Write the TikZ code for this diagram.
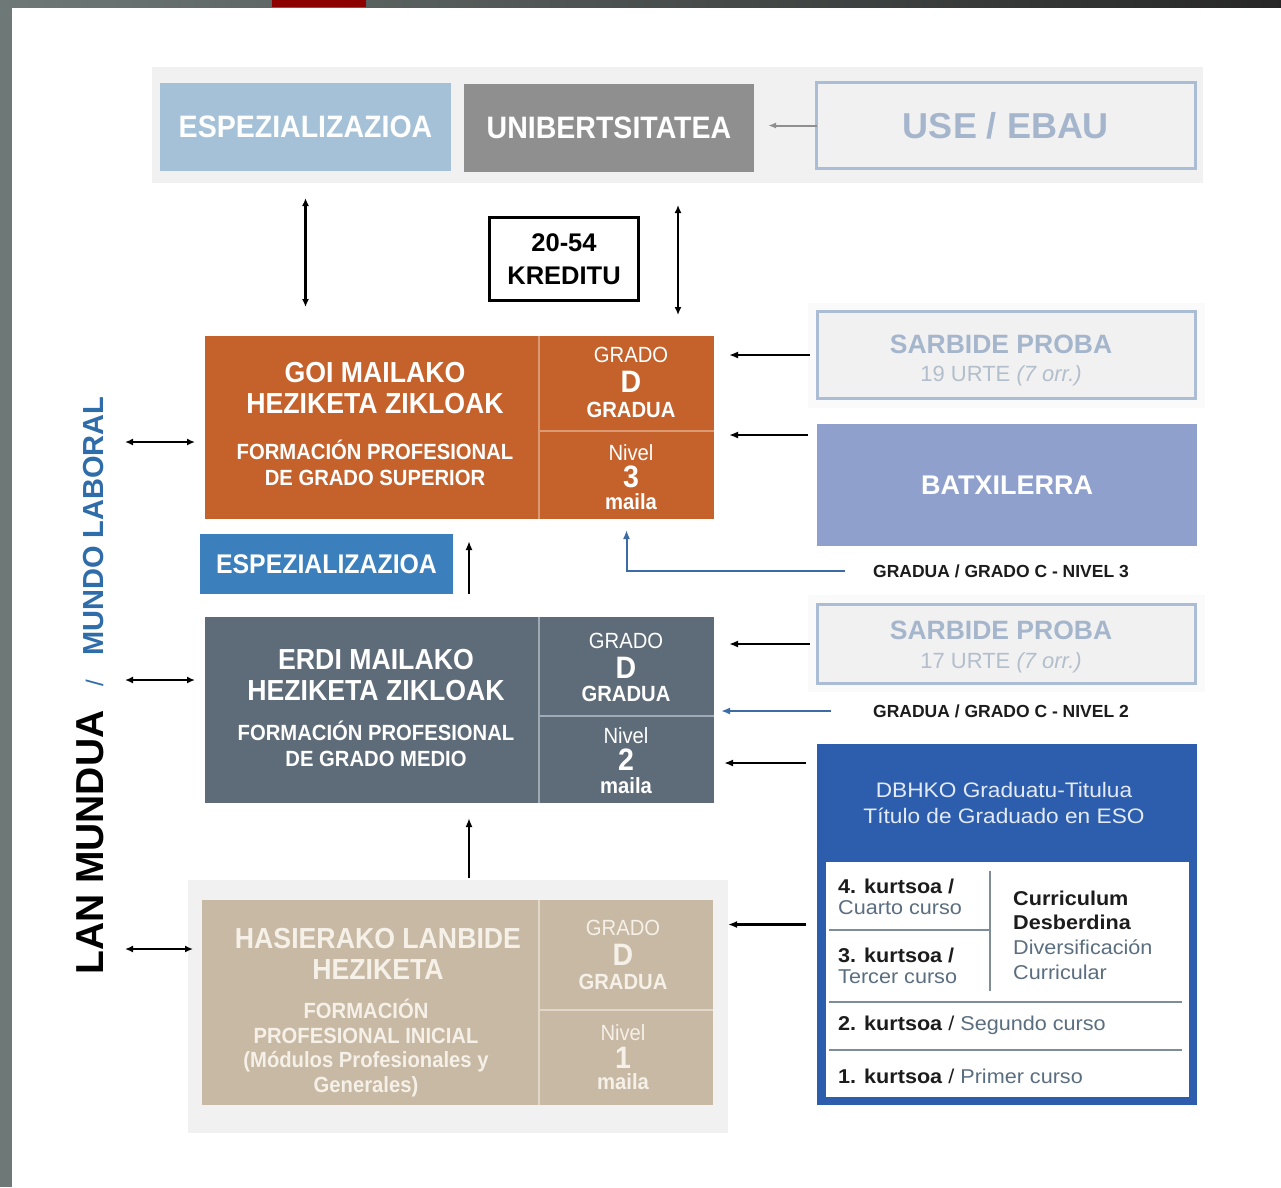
\documentclass[tikz,border=0pt]{standalone}
\usepackage{fontspec}
\setmainfont{Liberation Sans}
\newfontfamily\condfont[FakeStretch=0.92]{Liberation Sans}
\newfontfamily\kfont[FakeStretch=1.08]{Liberation Sans}
\usetikzlibrary{arrows.meta,positioning}
\newcommand{\setfs}[2]{\fontsize{#1}{#2}\selectfont}
\definecolor{fporange}{HTML}{C5622C}
\definecolor{orangeline}{HTML}{DC9A72}
\definecolor{fpslate}{HTML}{5E6B78}
\definecolor{slateline}{HTML}{A0AAB4}
\definecolor{fptan}{HTML}{C7B9A3}
\definecolor{tanline}{HTML}{E0D7C9}
\definecolor{tantext}{HTML}{F5F0E8}
\definecolor{topblue}{HTML}{A4C1D7}
\definecolor{unigray}{HTML}{8F8F8F}
\definecolor{outblue}{HTML}{AABDD4}
\definecolor{paletext}{HTML}{A5B6CC}
\definecolor{paletext2}{HTML}{B3BECC}
\definecolor{panelbg}{HTML}{F1F1F1}
\definecolor{faintbg}{HTML}{FAFAFA}
\definecolor{batxblue}{HTML}{8FA0CD}
\definecolor{espblue}{HTML}{3B80BC}
\definecolor{dbhblue}{HTML}{2D5EAD}
\definecolor{dbhtext}{HTML}{E4EAF5}
\definecolor{lineblue}{HTML}{3D6BA6}
\definecolor{mundoblue}{HTML}{2F6CAA}
\definecolor{kgray}{HTML}{5A6E80}
\definecolor{tableline}{HTML}{7E8D99}
\definecolor{labelblack}{HTML}{1C1C1C}
\definecolor{edgegray}{HTML}{6E7977}
\begin{document}
\begin{tikzpicture}[x=1pt,y=-1pt,
    fillbox/.style={rectangle, inner sep=0pt, outer sep=0pt},
    linebox/.style={fillbox, fill=panelbg, draw=outblue, line width=3pt},
    ttl/.style={inner sep=0pt, align=center, text=white, font=\condfont\bfseries\setfs{29}{31}},
    subttl/.style={inner sep=0pt, align=center, text=white, font=\condfont\bfseries\setfs{22}{25.5}},
    gradotxt/.style={inner sep=0pt, font=\condfont\setfs{22}{22}},
    bigtxt/.style={inner sep=0pt, font=\condfont\bfseries\setfs{31}{31}},
    boldtxt/.style={inner sep=0pt, font=\condfont\bfseries\setfs{22}{22}},
    paletxt/.style={inner sep=0pt, align=center, text=paletext},
    reglabel/.style={inner sep=0pt, text=labelblack, font=\bfseries\setfs{17.5}{17.5}},
    kurts/.style={inner sep=0pt, anchor=west, align=left, text=labelblack, font=\kfont\setfs{20}{21}},
    blk/.style={line width=2.4pt, -{Latex[length=9pt,width=7pt]}},
    dblk/.style={line width=2.2pt, {Latex[length=8pt,width=7pt]}-{Latex[length=8pt,width=7pt]}},
    blu/.style={line width=2pt, draw=lineblue, -{Latex[length=9pt,width=7pt]}, lineblue},
    grayarr/.style={line width=2pt, draw=unigray, -{Latex[length=8pt,width=6pt]}, unigray}]

  \useasboundingbox (0,0) rectangle (1281,1187);
  % photo edges
  \fill[white] (0,0) rectangle (1281,1187);
  \fill[edgegray] (0,0) rectangle (12,1187);
  \shade[left color=edgegray, right color=black!85] (0,0) rectangle (1281,7);
  \fill[red!55!black] (272,0) rectangle (366,7);

  % top row
  \fill[panelbg] (152,67) rectangle (1203,183);
  \node[fillbox, fill=topblue, minimum width=291pt, minimum height=88pt, text=white,
        font=\condfont\bfseries\setfs{31}{31}] (espTop) at (305.5,127) {ESPEZIALIZAZIOA};
  \node[fillbox, fill=unigray, minimum width=290pt, minimum height=88pt, text=white,
        font=\condfont\bfseries\setfs{31}{31}] (uni) at (609,128) {UNIBERTSITATEA};
  \node[linebox, minimum width=379pt, minimum height=86pt, text=paletext,
        font=\bfseries\setfs{36}{36}] (use) at (1006,125.5) {USE / EBAU};
  \draw[grayarr, shorten >=14pt] (use.west) -- (use.west -| uni.east);

  \node[fillbox, draw=black, line width=3pt, minimum width=149pt, minimum height=83pt,
        align=center, font=\bfseries\setfs{25.5}{33}] (kred) at (564,259) {20-54\\KREDITU};

  % GOI MAILAKO
  \node[fillbox, fill=fporange, minimum width=334pt, minimum height=183pt] (goi) at (372,427.5) {};
  \node[fillbox, fill=fporange, minimum width=175pt, minimum height=95pt] (goiD) at (626.5,383.5) {};
  \node[fillbox, fill=fporange, minimum width=175pt, minimum height=88pt] (goiN) at (626.5,475) {};
  \draw[orangeline, line width=2pt] (goi.north east) -- (goi.south east) (goiD.south west) -- (goiD.south east);
  \node[ttl] (goiT) at (375,388) {GOI MAILAKO\\HEZIKETA ZIKLOAK};
  \node[subttl] (goiS) at (375,463) {FORMACIÓN PROFESIONAL\\DE GRADO SUPERIOR};

  % ERDI MAILAKO
  \node[fillbox, fill=fpslate, minimum width=334pt, minimum height=186pt] (erdi) at (372,710) {};
  \node[fillbox, fill=fpslate, minimum width=175pt, minimum height=99pt] (erdiD) at (626.5,666.5) {};
  \node[fillbox, fill=fpslate, minimum width=175pt, minimum height=87pt] (erdiN) at (626.5,759.5) {};
  \draw[slateline, line width=2pt] (erdi.north east) -- (erdi.south east) (erdiD.south west) -- (erdiD.south east);
  \node[ttl] (erdiT) at (376,675) {ERDI MAILAKO\\HEZIKETA ZIKLOAK};
  \node[subttl] (erdiS) at (376,744) {FORMACIÓN PROFESIONAL\\DE GRADO MEDIO};

  % HASIERAKO
  \fill[panelbg] (188,880) rectangle (728,1133);
  \node[fillbox, fill=fptan, minimum width=337pt, minimum height=205pt] (has) at (370.5,1002.5) {};
  \node[fillbox, fill=fptan, minimum width=174pt, minimum height=110pt] (hasD) at (626,955) {};
  \node[fillbox, fill=fptan, minimum width=174pt, minimum height=95pt] (hasN) at (626,1057.5) {};
  \draw[tanline, line width=2pt] (has.north east) -- (has.south east) (hasD.south west) -- (hasD.south east);
  \node[ttl, text=tantext] (hasT) at (378,953.5) {HASIERAKO LANBIDE\\HEZIKETA};
  \node[subttl, text=tantext, font=\condfont\bfseries\setfs{22}{24.7}] (hasS) at (366,1048)
       {FORMACIÓN\\PROFESIONAL INICIAL\\(Módulos Profesionales y\\Generales)};

  % level columns
  \foreach \n/\x/\ya/\yb/\yc/\yd/\ye/\yf/\num/\tc in
      {goi/631/355/382/410/453/477/502/3/white,
       erdi/626/641/668/694/736/760/786/2/white,
       has/623/928/955/982/1033/1058/1082/1/tantext}{
    \node[gradotxt, text=\tc] (\n-gr) at (\x,\ya) {GRADO};
    \node[bigtxt, text=\tc] (\n-d) at (\x,\yb) {D};
    \node[boldtxt, text=\tc] (\n-ga) at (\x,\yc) {GRADUA};
    \node[gradotxt, text=\tc] (\n-ni) at (\x,\yd) {Nivel};
    \node[bigtxt, text=\tc] (\n-nu) at (\x,\ye) {\num};
    \node[boldtxt, text=\tc] (\n-ma) at (\x,\yf) {maila};
  }

  \node[fillbox, fill=espblue, minimum width=253pt, minimum height=60pt, text=white,
        font=\condfont\bfseries\setfs{27}{27}] (espMid) at (326.5,564) {ESPEZIALIZAZIOA};

  % right column
  \fill[faintbg] (808,303) rectangle (1205,408);
  \node[linebox, minimum width=378pt, minimum height=87pt] (sar19) at (1006.5,355) {};
  \node[paletxt, font=\bfseries\setfs{26.5}{26.5}] (sar19T) at (1001,344) {SARBIDE PROBA};
  \node[paletxt, text=paletext2, font=\setfs{22}{22}] (sar19U) at (1001,376) {19 URTE \textit{(7 orr.)}};
  \node[fillbox, fill=batxblue, minimum width=380pt, minimum height=122pt, text=white,
        font=\bfseries\setfs{27}{27}] (batx) at (1007,485) {BATXILERRA};
  \node[reglabel] (nivel3) at (1001,571) {GRADUA / GRADO C - NIVEL 3};

  \fill[faintbg] (808,595) rectangle (1205,692);
  \node[linebox, minimum width=378pt, minimum height=79pt] (sar17) at (1006.5,644) {};
  \node[paletxt, font=\bfseries\setfs{26.5}{26.5}] (sar17T) at (1001,630) {SARBIDE PROBA};
  \node[paletxt, text=paletext2, font=\setfs{22}{22}] (sar17U) at (1001,663) {17 URTE \textit{(7 orr.)}};
  \node[reglabel] (nivel2) at (1001,711) {GRADUA / GRADO C - NIVEL 2};

  % DBH
  \node[fillbox, fill=dbhblue, minimum width=380pt, minimum height=361pt] (dbh) at (1007,924.5) {};
  \node[inner sep=0pt, align=center, text=dbhtext, font=\kfont\setfs{21}{26}] (dbhT) at (1004,803)
       {DBHKO Graduatu-Titulua\\Título de Graduado en ESO};
  \node[fillbox, fill=white, minimum width=363pt, minimum height=235pt] (dbhIn) at (1007.5,979.5) {};
  \draw[tableline, line width=2.5pt] (829,930) -- (990,930) (990,871) -- (990,991)
       (829,1002) -- (1182,1002) (829,1050) -- (1182,1050);
  \node[kurts] (k4) at (838,896.5) {\textbf{4. kurtsoa /}\\\textcolor{kgray}{Cuarto curso}};
  \node[kurts] (k3) at (838,965.5) {\textbf{3. kurtsoa /}\\\textcolor{kgray}{Tercer curso}};
  \node[kurts, font=\kfont\setfs{20}{24.7}] (curr) at (1013,935)
       {\textbf{Curriculum}\\\textbf{Desberdina}\\\textcolor{kgray}{Diversificación}\\\textcolor{kgray}{Curricular}};
  \node[kurts] (k2) at (838,1025) {\textbf{2. kurtsoa} / \textcolor{kgray}{Segundo curso}};
  \node[kurts] (k1) at (838,1076) {\textbf{1. kurtsoa} / \textcolor{kgray}{Primer curso}};

  % LAN MUNDUA
  \node[rotate=90, anchor=base west, inner sep=0pt, text=black, font=\bfseries] (lan) at (103,975)
       {\setfs{39}{39}LAN MUNDUA\hspace{24pt}{\mdseries\color{mundoblue}\setfs{24}{24}/}\hspace{24pt}{\color{mundoblue}\setfs{29}{29}MUNDO LABORAL}};

  % connectors
  \draw[dblk, shorten <=27pt, shorten >=29pt] (espTop.south) -- (espTop.south |- goi.north);
  \coordinate (uniOut) at (678,172);
  \draw[dblk, shorten <=33pt, shorten >=21pt] (uniOut) -- (uniOut |- goiD.north);
  \draw[blk, shorten <=8pt, shorten >=15pt] (sar19.west) -- (sar19.west -| goiD.east);
  \coordinate (batxOut) at ([yshift=50pt]batx.west);
  \draw[blk, shorten <=9pt, shorten >=15pt] (batxOut) -- (batxOut -| goiN.east);
  \draw[blu, shorten <=28pt, shorten >=11pt] (nivel3.west) -| (goiN.south);
  \coordinate (espUp) at (469,594);
  \draw[blk, shorten >=22pt] (espUp) -- (espUp |- goi.south);
  \draw[blk, shorten <=8pt, shorten >=15pt] (sar17.west) -- (sar17.west -| erdiD.east);
  \draw[blu, shorten <=42pt, shorten >=7pt] (nivel2.west) -- (nivel2.west -| erdiD.east);
  \coordinate (dbhOut) at ([yshift=161.5pt]dbh.west);
  \draw[blk, shorten <=11pt, shorten >=10pt] (dbhOut) -- (dbhOut -| erdiN.east);
  \draw[blk, shorten <=11pt, shorten >=15pt] (dbh.west) -- (dbh.west -| hasD.east);
  \coordinate (hasUp) at (469,878);
  \draw[blk, shorten >=15pt] (hasUp) -- (hasUp |- erdi.south);
  \coordinate (lanGoi) at (125,442);
  \coordinate (lanErdi) at (125,680);
  \coordinate (lanHas) at (125,949);
  \draw[dblk, shorten >=10pt] (lanGoi) -- (lanGoi -| goi.west);
  \draw[dblk, shorten >=10pt] (lanErdi) -- (lanErdi -| erdi.west);
  \draw[dblk, shorten >=9pt] (lanHas) -- (lanHas -| has.west);
\end{tikzpicture}
\end{document}
